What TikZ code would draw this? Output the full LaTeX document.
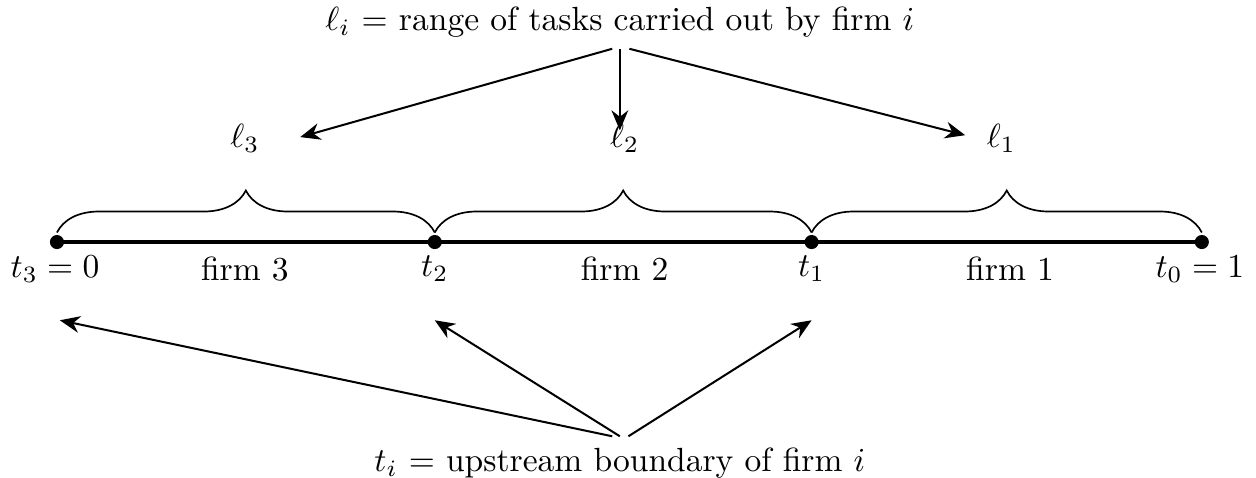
\documentclass[tikz,border=0pt]{standalone}
\usetikzlibrary{arrows.meta,decorations.pathreplacing}
\begin{document}
\begin{tikzpicture}[
  arr/.style={-{Stealth[length=6pt,width=5pt]},semithick},
  dot/.style={circle,fill=black,inner sep=0pt,minimum size=4.2pt},
  brc/.style={decorate,decoration={brace,amplitude=0.44cm,raise=0.1cm},line width=0.5pt},
  lab/.style={inner sep=2pt}
]
\useasboundingbox (-0.597,-2.463) rectangle (12.568,2.537);
% points
\node[dot] (p3) at (0,0) {};
\node[dot] (p2) at (3.96,0) {};
\node[dot] (p1) at (7.91,0) {};
\node[dot] (p0) at (12.0,0) {};
\draw[line width=1.2pt] (p3.center) -- (p2.center) -- (p1.center) -- (p0.center);
% braces
\draw[brc] (p3.center) -- (p2.center);
\draw[brc] (p2.center) -- (p1.center);
\draw[brc] (p1.center) -- (p0.center);
% labels under line
\node (t3) at (-0.02,-0.28) {$t_3=0$};
\node (f3) at (1.97,-0.28) {firm 3};
\node (t2) at (3.96,-0.28) {$t_2$};
\node (f2) at (5.95,-0.28) {firm 2};
\node (t1) at (7.91,-0.28) {$t_1$};
\node (f1) at (9.99,-0.28) {firm 1};
\node (t0) at (11.98,-0.28) {$t_0=1$};
% ell labels
\node (l3) at (1.97,1.09) {$\ell_3$};
\node (l2) at (5.95,1.09) {$\ell_2$};
\node (l1) at (9.90,1.09) {$\ell_1$};
% top label
\node (top) at (5.90,2.31) {$\ell_i$ = range of tasks carried out by firm $i$};
\coordinate (e3) at (2.55,1.10);
\coordinate (e2) at (5.90,1.17);
\coordinate (e1) at (9.52,1.12);
\draw[arr] ([xshift=-0.08cm]top.south) -- (e3);
\draw[arr] (top.south) -- (e2);
\draw[arr] ([xshift=0.1cm]top.south) -- (e1);
% bottom label
\node (bot) at (5.90,-2.32) {$t_i$ = upstream boundary of firm $i$};
\coordinate (b3) at (0.03,-0.82);
\coordinate (b2) at (3.96,-0.82);
\coordinate (b1) at (7.91,-0.82);
\draw[arr] ([xshift=-0.08cm]bot.north) -- (b3);
\draw[arr] (bot.north) -- (b2);
\draw[arr] ([xshift=0.09cm]bot.north) -- (b1);
\end{tikzpicture}
\end{document}
